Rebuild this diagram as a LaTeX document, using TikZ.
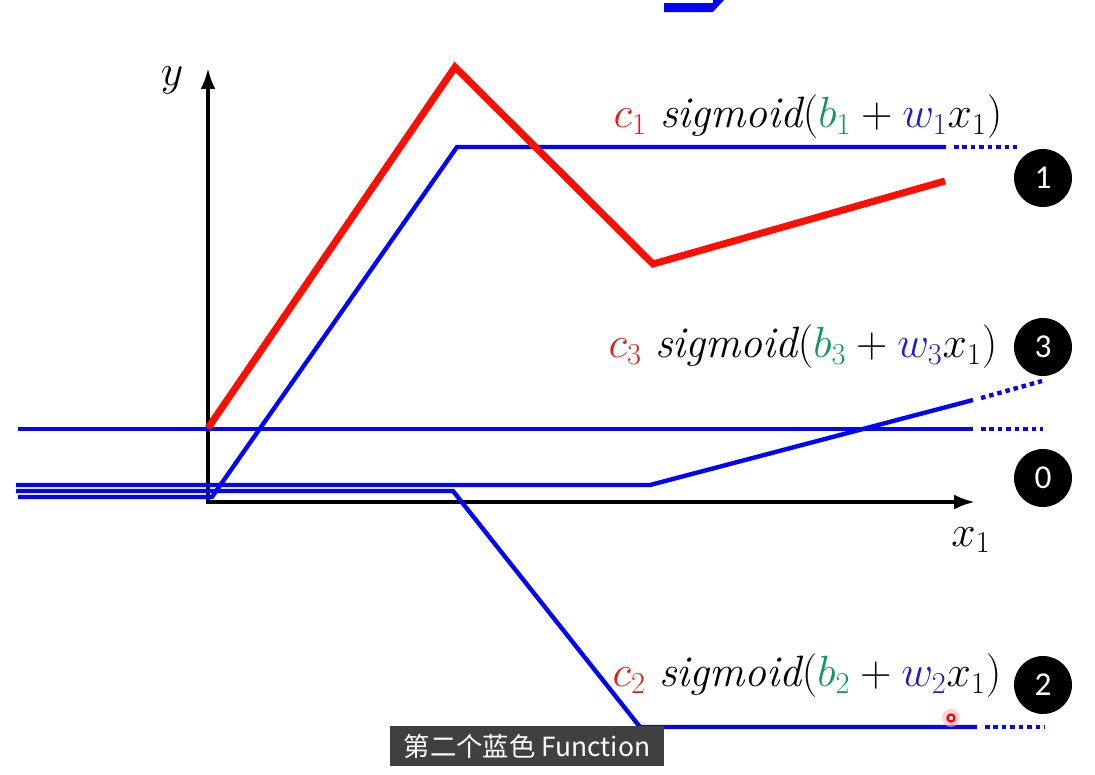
\documentclass[tikz,border=0pt]{standalone}
\usepackage{fontspec}
\newfontfamily\cjkfont{Noto Sans CJK SC}
\newfontfamily\numfont{Carlito}
\usetikzlibrary{arrows.meta,positioning}
\definecolor{fnblue}{RGB}{5,5,245}
\definecolor{fnred}{RGB}{250,15,5}
\definecolor{labred}{RGB}{230,30,20}
\definecolor{labgreen}{RGB}{20,150,90}
\definecolor{labblue}{RGB}{30,30,200}
\definecolor{subgray}{RGB}{64,64,64}
\tikzset{
  bluefn/.style={fnblue, line width=2.5pt, line join=miter},
  bluedots/.style={fnblue, line width=2.5pt, dash pattern=on 2.6pt off 2.2pt},
  redfn/.style={fnred, line width=4pt, line join=miter},
  axisline/.style={black, line width=2.1pt, -{Latex[length=4.2mm, width=3mm]}},
  numdot/.style={circle, fill=black, text=white, minimum size=1.16cm, inner sep=0pt,
    font=\numfont\fontsize{19}{19}\selectfont},
  fnlabel/.style={inner sep=0pt, font=\fontsize{25}{30}\selectfont},
}
\newcommand{\sigterm}[1]{$\textcolor{labred}{c_{#1}}\ \mathit{sigmoid}(\textcolor{labgreen}{b_{#1}}+\textcolor{labblue}{w_{#1}}x_1)$}
\begin{document}
\begin{tikzpicture}[x=0.02cm, y=-0.02cm]
\useasboundingbox (0,0) rectangle (1095,774);
% ==== partial arrow cut off at the top ====
\fill[fnblue] (664,3) -- (664,12) -- (713,12) -- (724,0) -- (713,0) -- (713,3) -- cycle;

% ==== axes ====
\coordinate (origin) at (208,502);
\coordinate (ytip) at (208,68);
\coordinate (xtip) at (975,502);
\draw[axisline] ([yshift=-1pt]origin) -- (ytip);
\draw[axisline] ([xshift=-1pt]origin) -- (xtip);
\node[fnlabel] (ylab) at (172,80) {$y$};
\node[fnlabel] (xlab) at (971,540) {$x_1$};

% ==== blue sigmoids ====
% constant 0
\draw[bluefn] (18,429) -- (973,429);
\draw[bluedots] (981,429) -- (1043,429);
% function 1
\draw[bluefn] (18,497) -- (212,497) -- (457,147) -- (946,147);
\draw[bluedots] (954,147) -- (1017,147);
% function 2
\draw[bluefn] (16,491) -- (453,491) -- (640,727) -- (977,727);
\draw[bluedots] (985,727) -- (1045,727);
% function 3
\draw[bluefn] (16,485) -- (650,485) -- (973,400);
\draw[bluedots] (981,398) -- (1042,381);

% ==== red sum ====
\draw[redfn] (208,428) -- (455,67) -- (653,264) -- (945,181);

% ==== labels ====
\node[fnlabel] (lab1) at (808,117) {\sigterm{1}};
\node[fnlabel] (lab3) at (803,347) {\sigterm{3}};
\node[fnlabel] (lab2) at (807,676) {\sigterm{2}};

\node[numdot] (n1) at (1043,178) {1};
\node[numdot] (n3) at (1043,347) {3};
\node[numdot] (n0) at (1043,478) {0};
\node[numdot] (n2) at (1043,685) {2};

% ==== pointer and subtitle ====
\fill[red!30, opacity=0.6] (951,718) circle (9);
\draw[red, line width=1.3pt, fill=white] (951,718) circle (3.5);
\node[fill=subgray, text=white, minimum width=5.5cm, minimum height=0.8cm, inner sep=0pt,
  font=\cjkfont\fontsize{15}{17}\selectfont] (subtitle) at (527,746) {第二个蓝色 Function};
\end{tikzpicture}
\end{document}
